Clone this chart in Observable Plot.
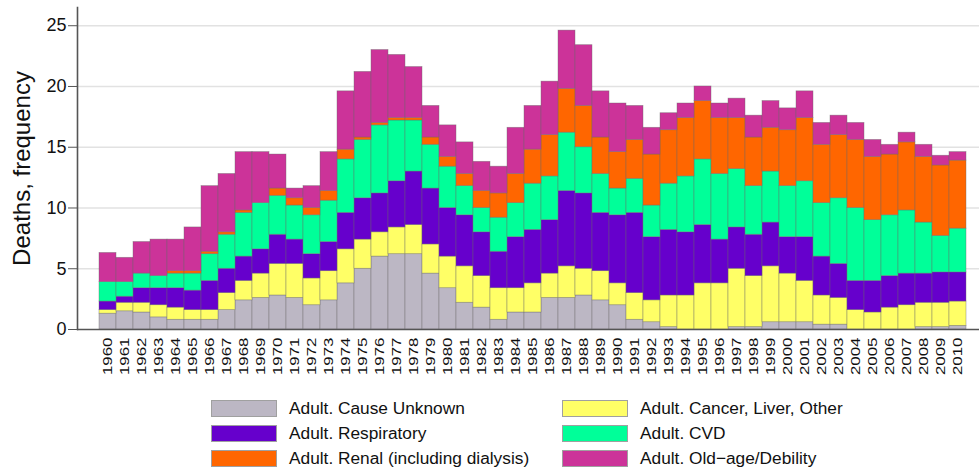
<!DOCTYPE html>
<html>
<head>
<meta charset="utf-8">
<script src="https://cdn.jsdelivr.net/npm/d3@7"></script>
<script src="https://cdn.jsdelivr.net/npm/@observablehq/plot@0.6"></script>
<style>
  html, body { margin: 0; padding: 0; background: #fff; }
  body { width: 979px; height: 467px; overflow: hidden; font-family: "Liberation Sans", Arial, sans-serif; }
  #legend { position: relative; height: 77px; }
  .item { position: absolute; display: flex; align-items: center; font-size: 17.3px; line-height: 17px; height: 17px; color: #111; white-space: nowrap; }
  .sw { width: 66px; height: 17px; border: 1px solid #a0a0a0; margin-right: 12px; box-sizing: border-box; flex: none; }
</style>
</head>
<body>
<div id="chart"></div>
<div id="legend"></div>
<script>
const years = d3.range(1960, 2011).map(String);
const categories = [
  "Adult. Cause Unknown",
  "Adult. Cancer, Liver, Other",
  "Adult. Respiratory",
  "Adult. CVD",
  "Adult. Renal (including dialysis)",
  "Adult. Old\u2212age/Debility"
];
const colors = ["#bcb7c4", "#ffff66", "#6600cc", "#00ff99", "#ff6600", "#cc3399"];

const causeUnknown = [1.3,1.5,1.4,1.0,0.8,0.8,0.8,1.6,2.4,2.6, 2.8,2.6,2.0,2.4,3.8,5.0,6.0,6.2,6.2,4.6, 3.4,2.2,1.8,0.8,1.4,1.4,2.6,2.6,2.8,2.4, 2.0,0.8,0.6,0.2,0,0,0,0.2,0.2,0.6, 0.6,0.6,0.4,0.4,0,0,0,0,0.2,0.2, 0.3];
const cancer = [0.3,0.7,0.8,1.0,1.0,0.8,0.8,1.4,1.6,2.0, 2.6,2.8,2.2,2.4,2.8,2.4,2.0,2.2,2.4,2.4, 2.6,3.0,2.6,2.6,2.0,2.4,2.0,2.6,2.2,2.4, 1.8,2.2,1.8,2.6,2.8,3.8,3.8,4.8,4.2,4.6, 4.0,3.4,2.4,2.2,1.6,1.4,1.8,2.0,2.0,2.0, 2.0];
const respiratory = [0.7,0.5,1.2,1.4,1.6,1.6,2.4,2.0,2.0,2.0, 2.4,2.0,2.0,2.4,3.0,3.4,3.2,3.8,4.4,4.6, 4.0,4.2,3.6,3.0,4.2,4.4,4.4,6.2,6.2,4.8, 5.6,6.6,5.2,5.4,5.2,4.8,3.6,3.4,3.4,3.6, 3.0,3.6,3.2,2.8,2.4,2.6,2.6,2.6,2.4,2.5, 2.4];
const cvd = [1.6,1.2,1.2,1.0,1.2,1.4,2.2,2.8,3.6,3.8, 3.2,2.8,3.2,3.4,4.4,4.8,5.6,5.0,4.2,3.6, 3.4,2.4,2.0,2.8,2.8,3.8,3.6,4.8,3.8,3.2, 2.2,2.8,2.6,3.8,4.6,5.4,5.4,4.8,4.0,4.2, 4.2,4.6,4.4,5.4,6.0,5.0,5.0,5.2,4.2,3.0, 3.6];
const renal = [0,0,0,0,0.2,0.2,0.2,0.2,0.2,0, 0.6,0.6,0.6,0.8,0.8,0.2,0.2,0.2,0.2,0.6, 0.8,1.0,1.4,2.0,2.4,2.8,3.4,3.6,3.4,3.0, 3.0,3.2,4.2,4.4,4.8,4.8,4.6,4.2,4.0,3.6, 4.6,5.2,4.8,5.2,5.6,5.2,5.0,5.6,5.4,5.8, 5.6];
const oldAge = [2.4,2.0,2.6,3.0,2.6,3.6,5.4,4.8,4.8,4.2, 2.8,0.8,1.8,3.2,4.8,5.4,6.0,5.2,4.2,2.6, 2.6,2.6,2.4,2.2,3.8,3.6,4.4,4.8,5.0,3.8, 4.0,2.8,2.2,1.4,1.2,1.2,1.2,1.6,1.8,2.2, 1.8,2.2,1.8,1.6,1.4,1.4,0.8,0.8,1.0,0.8, 0.7];
const yTicks = [0, 5, 10, 15, 20, 25];

const series = [causeUnknown, cancer, respiratory, cvd, renal, oldAge];
const data = [];
series.forEach((vals, i) => years.forEach((yr, j) => data.push({year: yr, cause: categories[i], value: vals[j]})));

const chart = Plot.plot({
  width: 979,
  height: 390,
  marginLeft: 77,
  marginRight: 0,
  marginTop: 7,
  marginBottom: 61,
  style: {fontFamily: "'Liberation Sans', Arial, sans-serif", color: "#111", background: "#fff"},
  x: {domain: years, padding: 0, insetLeft: 20.7, insetRight: 11.3},
  y: {domain: [0, 26.5]},
  color: {domain: categories, range: colors},
  marks: [
    Plot.ruleY(yTicks.filter(d => d > 0), {stroke: "#e2e2e2", strokeWidth: 1.4}),
    Plot.barY(data, Plot.stackY({order: null}, {x: "year", y: "value", fill: "cause", stroke: "#6a6a6a", strokeWidth: 0.7, strokeOpacity: 0.55})),
    Plot.ruleY([0], {stroke: "#555", strokeWidth: 1.6}),
    Plot.frame({anchor: "left", stroke: "#555", strokeWidth: 1.6}),
    Plot.axisY({ticks: yTicks, tickSize: 9, tickPadding: 2, fontSize: 18, label: null, stroke: "#555"}),
    Plot.axisX({tickRotate: -90, tickSize: 0, tickPadding: 8, fontSize: 12.5, label: null}),
    Plot.text(["Deaths, frequency"], {text: d => d, frameAnchor: "left", textAnchor: "middle", dx: -55, rotate: -90, fontSize: 24, fill: "#111"})
  ]
});
// stretch rotated year labels along their length, as in the reference
chart.querySelectorAll("text").forEach(t => {
  if (!/^(19|20)\d\d$/.test(t.textContent.trim())) return;
  let el = t;
  let tr = el.getAttribute("transform");
  if (!tr || !/rotate/.test(tr)) {
    const p = t.parentNode;
    if (p && p.getAttribute && /rotate/.test(p.getAttribute("transform") || "")) { el = p; tr = p.getAttribute("transform"); }
  }
  if (tr && /rotate/.test(tr)) {
    el.setAttribute("transform", tr + " scale(1.35,1)");
  } else {
    t.style.fontSize = "16.5px";
  }
});
document.getElementById("chart").appendChild(chart);

const legend = document.getElementById("legend");
const pos = [[211, 10], [562, 10], [211, 35], [562, 35], [211, 60], [562, 60]];
const legendOrder = [0, 1, 2, 3, 4, 5];
legendOrder.forEach((ci, k) => {
  const it = document.createElement("div");
  it.className = "item";
  it.style.left = pos[k][0] + "px";
  it.style.top = pos[k][1] + "px";
  const sw = document.createElement("div");
  sw.className = "sw";
  sw.style.background = colors[ci];
  const tx = document.createElement("span");
  tx.textContent = categories[ci];
  it.appendChild(sw);
  it.appendChild(tx);
  legend.appendChild(it);
});
</script>
</body>
</html>
